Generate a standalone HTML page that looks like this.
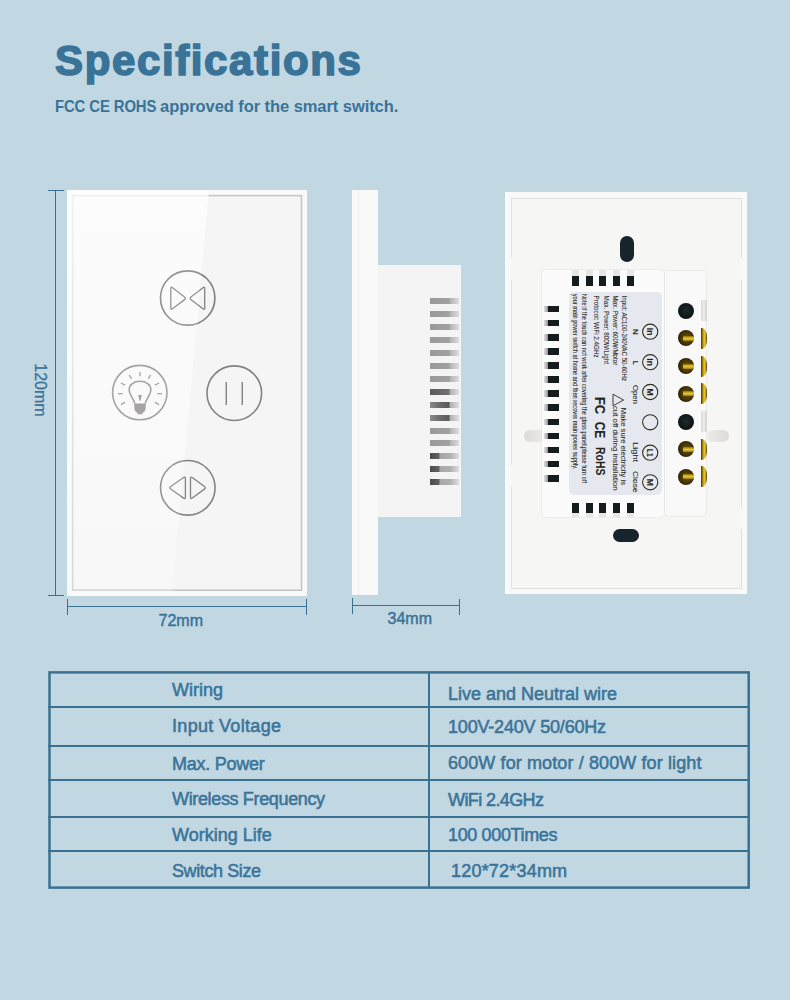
<!DOCTYPE html>
<html><head><meta charset="utf-8">
<style>
html,body{margin:0;padding:0}
body{width:790px;height:1000px;background:#c1d7e2;position:relative;overflow:hidden;font-family:"Liberation Sans",sans-serif;}
.a{position:absolute}
.t{position:absolute;white-space:nowrap;color:#3a7398;line-height:1}
.ln{position:absolute;background:#3a7191}
.row{position:absolute;left:48px;width:702px;height:2px;background:#3a7191}
.tx{position:absolute;white-space:nowrap;color:#3b7499;font-size:18px;line-height:1;-webkit-text-stroke:0.55px #3b7499}
</style></head>
<body>
<!-- title -->
<div class="t" id="title" style="left:55px;top:40px;font-size:42px;font-weight:bold;-webkit-text-stroke:1.6px #3a7398;letter-spacing:1.63px">Specifications</div>
<div class="t" id="sub" style="left:55px;top:98px;font-size:16.5px;font-weight:bold;letter-spacing:-0.07px"><span style="display:inline-block;transform:scaleX(0.9);transform-origin:0 0;letter-spacing:-0.1px;margin-right:-12px">FCC CE ROHS</span> approved for the smart switch.</div>

<!-- dimension lines -->
<div class="ln" style="left:55px;top:190px;width:1px;height:406px"></div>
<div class="ln" style="left:48px;top:190px;width:16px;height:1px"></div>
<div class="ln" style="left:48px;top:595px;width:16px;height:1px"></div>
<div class="t" style="left:13px;top:382px;font-size:16px;-webkit-text-stroke:0.3px #3a7398;transform:rotate(90deg);transform-origin:center">120mm</div>

<div class="ln" style="left:67px;top:606px;width:240px;height:1px"></div>
<div class="ln" style="left:67px;top:599px;width:1px;height:16px"></div>
<div class="ln" style="left:306px;top:599px;width:1px;height:16px"></div>
<div class="t" style="left:158.5px;top:613px;font-size:16px;-webkit-text-stroke:0.45px #3a7398">72mm</div>

<div class="ln" style="left:352px;top:605px;width:108px;height:1px"></div>
<div class="ln" style="left:352px;top:598px;width:1px;height:16px"></div>
<div class="ln" style="left:459px;top:599px;width:1px;height:16px"></div>
<div class="t" style="left:387.5px;top:611px;font-size:16px;-webkit-text-stroke:0.45px #3a7398">34mm</div>

<!-- table -->
<svg class="a" style="left:40px;top:660px" width="720" height="240"><rect x="9.5" y="12.4" width="699.2" height="215.2" fill="none" stroke="#3a7191" stroke-width="2.5"/></svg>
<div class="ln" style="left:428px;top:672px;width:2px;height:215px"></div>
<div class="row" style="top:706px"></div>
<div class="row" style="top:745px"></div>
<div class="row" style="top:779px"></div>
<div class="row" style="top:816px"></div>
<div class="row" style="top:850px"></div>

<div class="tx" style="left:172px;top:680.5px">Wiring</div>
<div class="tx" style="left:172px;top:716.5px;letter-spacing:0.33px">Input Voltage</div>
<div class="tx" style="left:172px;top:754.5px;letter-spacing:-0.25px">Max. Power</div>
<div class="tx" style="left:172px;top:789.5px;letter-spacing:-0.35px">Wireless Frequency</div>
<div class="tx" style="left:172px;top:825.5px">Working Life</div>
<div class="tx" style="left:172px;top:861.5px;letter-spacing:-0.4px">Switch Size</div>

<div class="tx" style="left:448px;top:684.5px">Live and Neutral wire</div>
<div class="tx" style="left:448px;top:717.5px;letter-spacing:-0.19px">100V-240V 50/60Hz</div>
<div class="tx" style="left:448px;top:753.5px;letter-spacing:0.11px">600W for motor / 800W for light</div>
<div class="tx" style="left:448px;top:790.5px;letter-spacing:-0.6px">WiFi 2.4GHz</div>
<div class="tx" style="left:448px;top:825.5px;letter-spacing:-0.36px">100 000Times</div>
<div class="tx" style="left:451px;top:861.5px;letter-spacing:0.2px">120*72*34mm</div>

<!-- FRONT -->
<div class="a" style="left:67px;top:190px;width:240px;height:406px;background:#fafafa"></div>
<svg class="a" style="left:67px;top:190px" width="240" height="406"><rect x="5.6" y="5.6" width="228.9" height="394.6" fill="#f5f5f5" stroke="#c6c6c6" stroke-width="1.6"/></svg>

<svg class="a" style="left:67px;top:190px" width="240" height="406" viewBox="0 0 240 406">
<defs><linearGradient id="refl" x1="0" y1="0" x2="0" y2="1"><stop offset="0" stop-color="#fff" stop-opacity="0.7"/><stop offset="0.5" stop-color="#fff" stop-opacity="0.45"/><stop offset="1" stop-color="#fff" stop-opacity="0.15"/></linearGradient></defs>
<polygon points="0,0 142,0 105,406 0,406" fill="url(#refl)"/>
</svg>
<svg class="a" style="left:67px;top:190px" width="240" height="406" viewBox="67 190 240 406" fill="none" stroke="#858282">
<circle cx="187.7" cy="298" r="27.2" stroke-width="1.7"/>
<path d="M172.54,287.65 Q170.80,286.30 170.80,288.50 L170.80,307.90 Q170.80,310.10 172.55,308.77 L184.55,299.63 Q186.30,298.30 184.56,296.95 Z" stroke-width="1.3" stroke-linejoin="round"/>
<path d="M202.96,287.65 Q204.70,286.30 204.70,288.50 L204.70,307.90 Q204.70,310.10 202.95,308.77 L190.95,299.63 Q189.20,298.30 190.94,296.95 Z" stroke-width="1.3" stroke-linejoin="round"/>
<circle cx="234.3" cy="393.2" r="27.3" stroke-width="1.6"/>
<path d="M226.3,382 V405 M242.3,382 V405" stroke-width="1.4"/>
<circle cx="187.8" cy="487.8" r="27.3" stroke-width="1.6"/>
<path d="M183.60,477.56 Q185.40,476.30 185.40,478.50 L185.40,497.20 Q185.40,499.40 183.60,498.13 L170.70,489.07 Q168.90,487.80 170.70,486.54 Z" stroke-width="1.3" stroke-linejoin="round"/>
<path d="M192.27,477.60 Q190.50,476.30 190.50,478.50 L190.50,497.20 Q190.50,499.40 192.27,498.09 L204.43,489.11 Q206.20,487.80 204.43,486.50 Z" stroke-width="1.3" stroke-linejoin="round"/>
</svg>
<svg class="a" style="left:108px;top:362px" width="64" height="62" viewBox="0 0 64 62" fill="none" stroke="#969393">
<circle cx="31.8" cy="30.6" r="27.2" stroke-width="1.6"/>
<path d="M26.7,41.5 C26.2,37 21.2,33.5 21.2,27.5 C21.2,22.5 26,19.3 32,19.3 C38,19.3 42.8,22.5 42.8,27.5 C42.8,33.5 37.8,37 37.3,41.5" stroke-width="1.6"/>
<path d="M26.1,41.4 H37.9 L37.5,47 Q37.3,49.6 35.6,50.2 L34.4,50.8 V52.2 H29.6 V50.8 L28.4,50.2 Q26.7,49.6 26.5,47 Z" fill="#969393" stroke="none"/>
<path d="M30.2,33 H33.8 L32.5,38.8 H31.5 Z" fill="#969393" stroke="none"/>
<path d="M32,10 V14.3 M21.1,12.9 L23.6,16.7 M42.6,12.9 L40.4,16.7 M12.9,21 L17.1,23.2 M51.1,21 L46.9,23.2 M10,31.6 H14.7 M49.3,31.6 H54 M12.9,42.6 L17.1,40.4 M51.1,42.6 L46.9,40.4" stroke-width="1.3"/>
</svg>
<!-- SIDE -->

<svg class="a" style="left:67px;top:190px" width="240" height="406" viewBox="0 0 240 406">
<polygon points="0,0 142,0 105,406 0,406" fill="#fff" fill-opacity="0.15"/>
</svg>
<div class="a" style="left:352px;top:190px;width:26px;height:405px;background:#f9f9f9"></div>
<div class="a" style="left:358px;top:190px;width:1px;height:405px;background:#ececec"></div>
<div class="a" style="left:378px;top:265px;width:83px;height:252px;background:#f4f4f4"></div>

<!-- BACK -->
<div class="a" style="left:430px;top:298.00px;width:29px;height:6px;background:linear-gradient(90deg,#9a9a9a 0%,#a0a0a0 65%,#b8b8b8 72%,#c8c8c8 85%,#dcdcdc 100%)"></div><div class="a" style="left:430px;top:310.95px;width:29px;height:6px;background:linear-gradient(90deg,#9a9a9a 0%,#a0a0a0 65%,#b8b8b8 72%,#c8c8c8 85%,#dcdcdc 100%)"></div><div class="a" style="left:430px;top:323.90px;width:29px;height:6px;background:linear-gradient(90deg,#9a9a9a 0%,#a0a0a0 65%,#b8b8b8 72%,#c8c8c8 85%,#dcdcdc 100%)"></div><div class="a" style="left:430px;top:336.85px;width:29px;height:6px;background:linear-gradient(90deg,#9a9a9a 0%,#a0a0a0 65%,#b8b8b8 72%,#c8c8c8 85%,#dcdcdc 100%)"></div><div class="a" style="left:430px;top:349.80px;width:29px;height:6px;background:linear-gradient(90deg,#9a9a9a 0%,#a0a0a0 65%,#b8b8b8 72%,#c8c8c8 85%,#dcdcdc 100%)"></div><div class="a" style="left:430px;top:362.75px;width:29px;height:6px;background:linear-gradient(90deg,#9a9a9a 0%,#a0a0a0 65%,#b8b8b8 72%,#c8c8c8 85%,#dcdcdc 100%)"></div><div class="a" style="left:430px;top:375.70px;width:29px;height:6px;background:linear-gradient(90deg,#9a9a9a 0%,#a0a0a0 65%,#b8b8b8 72%,#c8c8c8 85%,#dcdcdc 100%)"></div><div class="a" style="left:430px;top:388.65px;width:29px;height:6px;background:linear-gradient(90deg,#5a5a5a 0%,#707070 65%,#b0b0b0 70%,#c8c8c8 85%,#dedede 100%)"></div><div class="a" style="left:430px;top:401.60px;width:29px;height:6px;background:linear-gradient(90deg,#8a8a8a 0%,#6a6a6a 35%,#5a5a5a 65%,#b0b0b0 70%,#c8c8c8 85%,#dedede 100%)"></div><div class="a" style="left:430px;top:414.55px;width:29px;height:6px;background:linear-gradient(90deg,#8a8a8a 0%,#6a6a6a 35%,#5a5a5a 65%,#b0b0b0 70%,#c8c8c8 85%,#dedede 100%)"></div><div class="a" style="left:430px;top:427.50px;width:29px;height:6px;background:linear-gradient(90deg,#9a9a9a 0%,#a0a0a0 65%,#b8b8b8 72%,#c8c8c8 85%,#dcdcdc 100%)"></div><div class="a" style="left:430px;top:440.45px;width:29px;height:6px;background:linear-gradient(90deg,#9a9a9a 0%,#a0a0a0 65%,#b8b8b8 72%,#c8c8c8 85%,#dcdcdc 100%)"></div><div class="a" style="left:430px;top:453.40px;width:29px;height:6px;background:linear-gradient(90deg,#4a4a4a 0%,#606060 30%,#a8a8a8 35%,#b0b0b0 70%,#c8c8c8 85%,#dedede 100%)"></div><div class="a" style="left:430px;top:466.35px;width:29px;height:6px;background:linear-gradient(90deg,#4a4a4a 0%,#606060 30%,#a8a8a8 35%,#b0b0b0 70%,#c8c8c8 85%,#dedede 100%)"></div><div class="a" style="left:430px;top:479.30px;width:29px;height:6px;background:linear-gradient(90deg,#4a4a4a 0%,#606060 30%,#a8a8a8 35%,#b0b0b0 70%,#c8c8c8 85%,#dedede 100%)"></div>
<div class="a" style="left:505px;top:192px;width:242px;height:402px;background:#f9f9f9"></div>
<div class="a" style="left:511px;top:198px;width:229px;height:389px;border:1px solid #e2e1df;background:#f6f6f5"></div>
<div class="a" style="left:510px;top:258px;width:3px;height:22px;background:#f8f8f7"></div>
<div class="a" style="left:510px;top:465px;width:3px;height:21px;background:#f8f8f7"></div>
<div class="a" style="left:740px;top:258px;width:3px;height:22px;background:#f8f8f7"></div>
<div class="a" style="left:740px;top:508px;width:3px;height:21px;background:#f8f8f7"></div>
<div class="a" style="left:620px;top:236px;width:13.5px;height:26px;border-radius:7px;background:#17242c"></div>
<div class="a" style="left:612.5px;top:528.5px;width:26.5px;height:13.5px;border-radius:7px;background:#17242c"></div>
<div class="a" style="left:523.5px;top:429.5px;width:22px;height:12px;border-radius:6px;background:linear-gradient(90deg,#dddbd9,#ecebea)"></div>
<div class="a" style="left:707px;top:429.5px;width:22px;height:12px;border-radius:6px;background:linear-gradient(90deg,#ecebea,#dddbd9)"></div>
<div class="a" style="left:541.5px;top:270px;width:122.5px;height:247px;border-radius:4px;background:#fbfbfb;box-shadow:0 0 0 0.5px #e2e2e2"></div>
<div class="a" style="left:665px;top:271px;width:41px;height:245px;border-radius:3px;background:#f9f9f9;box-shadow:0 0 0 0.5px #e0e0e0"></div>
<div class="a" style="left:572px;top:276px;width:7px;height:10px;background:#141c1e"></div>
<div class="a" style="left:572px;top:270px;width:7px;height:6px;background:#e6e6e6"></div>
<div class="a" style="left:572px;top:502.5px;width:7px;height:10px;background:#141c1e"></div>
<div class="a" style="left:572px;top:512.5px;width:7px;height:4.5px;background:#e6e6e6"></div>
<div class="a" style="left:585.7px;top:276px;width:7px;height:10px;background:#141c1e"></div>
<div class="a" style="left:585.7px;top:270px;width:7px;height:6px;background:#e6e6e6"></div>
<div class="a" style="left:585.7px;top:502.5px;width:7px;height:10px;background:#141c1e"></div>
<div class="a" style="left:585.7px;top:512.5px;width:7px;height:4.5px;background:#e6e6e6"></div>
<div class="a" style="left:599.3px;top:276px;width:7px;height:10px;background:#141c1e"></div>
<div class="a" style="left:599.3px;top:270px;width:7px;height:6px;background:#e6e6e6"></div>
<div class="a" style="left:599.3px;top:502.5px;width:7px;height:10px;background:#141c1e"></div>
<div class="a" style="left:599.3px;top:512.5px;width:7px;height:4.5px;background:#e6e6e6"></div>
<div class="a" style="left:613.2px;top:276px;width:7px;height:10px;background:#141c1e"></div>
<div class="a" style="left:613.2px;top:270px;width:7px;height:6px;background:#e6e6e6"></div>
<div class="a" style="left:613.2px;top:502.5px;width:7px;height:10px;background:#141c1e"></div>
<div class="a" style="left:613.2px;top:512.5px;width:7px;height:4.5px;background:#e6e6e6"></div>
<div class="a" style="left:627px;top:276px;width:7px;height:10px;background:#141c1e"></div>
<div class="a" style="left:627px;top:270px;width:7px;height:6px;background:#e6e6e6"></div>
<div class="a" style="left:627px;top:502.5px;width:7px;height:10px;background:#141c1e"></div>
<div class="a" style="left:627px;top:512.5px;width:7px;height:4.5px;background:#e6e6e6"></div>
<div class="a" style="left:544px;top:305.70px;width:14.5px;height:6.7px;background:linear-gradient(90deg,#e0e0e0 0%,#9a9a9a 25%,#141c1e 30%,#141c1e 100%)"></div>
<div class="a" style="left:544px;top:319.80px;width:14.5px;height:6.7px;background:linear-gradient(90deg,#e0e0e0 0%,#9a9a9a 25%,#141c1e 30%,#141c1e 100%)"></div>
<div class="a" style="left:544px;top:333.90px;width:14.5px;height:6.7px;background:linear-gradient(90deg,#e0e0e0 0%,#9a9a9a 25%,#141c1e 30%,#141c1e 100%)"></div>
<div class="a" style="left:544px;top:348.00px;width:14.5px;height:6.7px;background:linear-gradient(90deg,#e0e0e0 0%,#9a9a9a 25%,#141c1e 30%,#141c1e 100%)"></div>
<div class="a" style="left:544px;top:362.10px;width:14.5px;height:6.7px;background:linear-gradient(90deg,#e0e0e0 0%,#9a9a9a 25%,#141c1e 30%,#141c1e 100%)"></div>
<div class="a" style="left:544px;top:376.20px;width:14.5px;height:6.7px;background:linear-gradient(90deg,#e0e0e0 0%,#9a9a9a 25%,#141c1e 30%,#141c1e 100%)"></div>
<div class="a" style="left:544px;top:390.30px;width:14.5px;height:6.7px;background:linear-gradient(90deg,#e0e0e0 0%,#9a9a9a 25%,#141c1e 30%,#141c1e 100%)"></div>
<div class="a" style="left:544px;top:404.40px;width:14.5px;height:6.7px;background:linear-gradient(90deg,#e0e0e0 0%,#9a9a9a 25%,#141c1e 30%,#141c1e 100%)"></div>
<div class="a" style="left:544px;top:418.50px;width:14.5px;height:6.7px;background:linear-gradient(90deg,#e0e0e0 0%,#9a9a9a 25%,#141c1e 30%,#141c1e 100%)"></div>
<div class="a" style="left:544px;top:432.60px;width:14.5px;height:6.7px;background:linear-gradient(90deg,#e0e0e0 0%,#9a9a9a 25%,#141c1e 30%,#141c1e 100%)"></div>
<div class="a" style="left:544px;top:446.70px;width:14.5px;height:6.7px;background:linear-gradient(90deg,#e0e0e0 0%,#9a9a9a 25%,#141c1e 30%,#141c1e 100%)"></div>
<div class="a" style="left:544px;top:460.80px;width:14.5px;height:6.7px;background:linear-gradient(90deg,#e0e0e0 0%,#9a9a9a 25%,#141c1e 30%,#141c1e 100%)"></div>
<div class="a" style="left:544px;top:474.90px;width:14.5px;height:6.7px;background:linear-gradient(90deg,#e0e0e0 0%,#9a9a9a 25%,#141c1e 30%,#141c1e 100%)"></div>
<div class="a" style="left:569px;top:292px;width:93px;height:203px;border-radius:5px;background:#e5e8ef"></div>
<div class="a" style="left:678.3px;top:302.5px;width:16px;height:16px;border-radius:50%;background:radial-gradient(circle at 50% 45%,#1e2a2a 0%,#0d1414 70%,#142020 100%)"></div>
<div class="a" style="left:700.5px;top:300.0px;width:6px;height:21px;background:linear-gradient(90deg,#d8d8d8,#ececec,#d0d0d0)"></div>
<div class="a" style="left:678.3px;top:330.1px;width:16px;height:16px;border-radius:50%;background:radial-gradient(circle at 55% 50%,#6a5208 0%,#4a3806 45%,#251c02 80%,#3a3008 100%)"></div>
<div class="a" style="left:682.5px;top:335.6px;width:11px;height:5px;border-radius:1px;background:linear-gradient(180deg,#8a7010,#e8c830 50%,#9a7e10)"></div>
<div class="a" style="left:700.8px;top:327.6px;width:6px;height:21px;border-radius:0 5px 5px 0 / 0 9px 9px 0;background:linear-gradient(90deg,#3a3005,#b08a10 30%,#e8c830 55%,#c9a020 75%,#4a3c06)"></div>
<div class="a" style="left:678.3px;top:358.0px;width:16px;height:16px;border-radius:50%;background:radial-gradient(circle at 55% 50%,#6a5208 0%,#4a3806 45%,#251c02 80%,#3a3008 100%)"></div>
<div class="a" style="left:682.5px;top:363.5px;width:11px;height:5px;border-radius:1px;background:linear-gradient(180deg,#8a7010,#e8c830 50%,#9a7e10)"></div>
<div class="a" style="left:700.8px;top:355.5px;width:6px;height:21px;border-radius:0 5px 5px 0 / 0 9px 9px 0;background:linear-gradient(90deg,#3a3005,#b08a10 30%,#e8c830 55%,#c9a020 75%,#4a3c06)"></div>
<div class="a" style="left:678.3px;top:385.8px;width:16px;height:16px;border-radius:50%;background:radial-gradient(circle at 55% 50%,#6a5208 0%,#4a3806 45%,#251c02 80%,#3a3008 100%)"></div>
<div class="a" style="left:682.5px;top:391.3px;width:11px;height:5px;border-radius:1px;background:linear-gradient(180deg,#8a7010,#e8c830 50%,#9a7e10)"></div>
<div class="a" style="left:700.8px;top:383.3px;width:6px;height:21px;border-radius:0 5px 5px 0 / 0 9px 9px 0;background:linear-gradient(90deg,#3a3005,#b08a10 30%,#e8c830 55%,#c9a020 75%,#4a3c06)"></div>
<div class="a" style="left:678.3px;top:413.5px;width:16px;height:16px;border-radius:50%;background:radial-gradient(circle at 50% 45%,#1e2a2a 0%,#0d1414 70%,#142020 100%)"></div>
<div class="a" style="left:700.5px;top:411.0px;width:6px;height:21px;background:linear-gradient(90deg,#d8d8d8,#ececec,#d0d0d0)"></div>
<div class="a" style="left:678.3px;top:441.1px;width:16px;height:16px;border-radius:50%;background:radial-gradient(circle at 55% 50%,#6a5208 0%,#4a3806 45%,#251c02 80%,#3a3008 100%)"></div>
<div class="a" style="left:682.5px;top:446.6px;width:11px;height:5px;border-radius:1px;background:linear-gradient(180deg,#8a7010,#e8c830 50%,#9a7e10)"></div>
<div class="a" style="left:700.8px;top:438.6px;width:6px;height:21px;border-radius:0 5px 5px 0 / 0 9px 9px 0;background:linear-gradient(90deg,#3a3005,#b08a10 30%,#e8c830 55%,#c9a020 75%,#4a3c06)"></div>
<div class="a" style="left:678.3px;top:468.8px;width:16px;height:16px;border-radius:50%;background:radial-gradient(circle at 55% 50%,#6a5208 0%,#4a3806 45%,#251c02 80%,#3a3008 100%)"></div>
<div class="a" style="left:682.5px;top:474.3px;width:11px;height:5px;border-radius:1px;background:linear-gradient(180deg,#8a7010,#e8c830 50%,#9a7e10)"></div>
<div class="a" style="left:700.8px;top:466.3px;width:6px;height:21px;border-radius:0 5px 5px 0 / 0 9px 9px 0;background:linear-gradient(90deg,#3a3005,#b08a10 30%,#e8c830 55%,#c9a020 75%,#4a3c06)"></div>
<svg class="a" style="left:565px;top:285px" width="100" height="215" viewBox="565 285 100 215" font-family="Liberation Sans, sans-serif"><text transform="translate(621.5,295.6) rotate(90)" font-size="7" font-weight="normal" fill="#25251a" stroke="#25251a" stroke-width="0.06" textLength="85.39999999999998" lengthAdjust="spacingAndGlyphs">Input: AC100-240VAC 50-60Hz</text><text transform="translate(612.7,295.6) rotate(90)" font-size="7" font-weight="normal" fill="#25251a" stroke="#25251a" stroke-width="0.06" textLength="69.59999999999997" lengthAdjust="spacingAndGlyphs">Max. Power: 600W/Motor</text><text transform="translate(603.8,295.6) rotate(90)" font-size="7" font-weight="normal" fill="#25251a" stroke="#25251a" stroke-width="0.06" textLength="68.39999999999998" lengthAdjust="spacingAndGlyphs">Max. Power: 800W/Light</text><text transform="translate(594.2,295.6) rotate(90)" font-size="7" font-weight="normal" fill="#25251a" stroke="#25251a" stroke-width="0.06" textLength="62.0" lengthAdjust="spacingAndGlyphs">Protocol: WiFi 2.4GHz</text><text transform="translate(582.2,293.7) rotate(90)" font-size="6.5" font-weight="normal" fill="#25251a" stroke="#25251a" stroke-width="0.06" textLength="189.3" lengthAdjust="spacingAndGlyphs">Note:If the touch can not work after covering the glass panel,please turn off</text><text transform="translate(573.4,293.7) rotate(90)" font-size="6.5" font-weight="normal" fill="#25251a" stroke="#25251a" stroke-width="0.06" textLength="175.5" lengthAdjust="spacingAndGlyphs">your main power switch at home and then recover main power supply.</text><text transform="translate(633.2,329) rotate(90)" font-size="7.5" font-weight="bold" fill="#25251a" stroke="#25251a" stroke-width="0.06" textLength="5.800000000000011" lengthAdjust="spacingAndGlyphs">N</text><text transform="translate(633.2,360.8) rotate(90)" font-size="7.5" font-weight="bold" fill="#25251a" stroke="#25251a" stroke-width="0.06" textLength="4.0" lengthAdjust="spacingAndGlyphs">L</text><text transform="translate(632.9,385) rotate(90)" font-size="8" font-weight="normal" fill="#25251a" stroke="#25251a" stroke-width="0.06" textLength="19" lengthAdjust="spacingAndGlyphs">Open</text><text transform="translate(632.9,442) rotate(90)" font-size="8" font-weight="normal" fill="#25251a" stroke="#25251a" stroke-width="0.06" textLength="20.19999999999999" lengthAdjust="spacingAndGlyphs">Light</text><text transform="translate(632.9,471) rotate(90)" font-size="8" font-weight="normal" fill="#25251a" stroke="#25251a" stroke-width="0.06" textLength="21.600000000000023" lengthAdjust="spacingAndGlyphs">Close</text><text transform="translate(620.9,407.8) rotate(90)" font-size="7.5" font-weight="normal" fill="#25251a" stroke="#25251a" stroke-width="0.06" textLength="77.19999999999999" lengthAdjust="spacingAndGlyphs">Make sure electricity is</text><text transform="translate(612.7,405.9) rotate(90)" font-size="7.5" font-weight="normal" fill="#25251a" stroke="#25251a" stroke-width="0.06" textLength="84.80000000000001" lengthAdjust="spacingAndGlyphs">cut off during installation</text><text transform="translate(595,397) rotate(90)" font-size="14" font-weight="bold" fill="#25251a" stroke="#25251a" stroke-width="0.06" textLength="17.100000000000023" lengthAdjust="spacingAndGlyphs">FC</text><text transform="translate(595,421.7) rotate(90)" font-size="14" font-weight="bold" fill="#25251a" stroke="#25251a" stroke-width="0.06" textLength="16.5" lengthAdjust="spacingAndGlyphs">CE</text><text transform="translate(596,447) rotate(90)" font-size="12" font-weight="bold" fill="#25251a" stroke="#25251a" stroke-width="0.06" textLength="28.5" lengthAdjust="spacingAndGlyphs">RoHS</text><path d="M613,394.2 L613,405.8 L623.6,400 Z" fill="none" stroke="#2b2b1c" stroke-width="0.9" stroke-linejoin="round"/><circle cx="650.2" cy="331.7" r="7.6" fill="none" stroke="#2e2e1a" stroke-width="1.1"/><text transform="translate(646.6,327.85) rotate(90)" font-size="8.5" font-weight="bold" fill="#25251a" stroke="#25251a" stroke-width="0.06" textLength="7.70" lengthAdjust="spacingAndGlyphs">In</text><circle cx="650.2" cy="362.2" r="7.6" fill="none" stroke="#2e2e1a" stroke-width="1.1"/><text transform="translate(646.6,358.35) rotate(90)" font-size="8.5" font-weight="bold" fill="#25251a" stroke="#25251a" stroke-width="0.06" textLength="7.70" lengthAdjust="spacingAndGlyphs">In</text><circle cx="650.2" cy="392" r="7.6" fill="none" stroke="#2e2e1a" stroke-width="1.1"/><text transform="translate(646.6,388.40) rotate(90)" font-size="8.5" font-weight="bold" fill="#25251a" stroke="#25251a" stroke-width="0.06" textLength="7.20" lengthAdjust="spacingAndGlyphs">M</text><circle cx="650.2" cy="422.3" r="7.6" fill="none" stroke="#2e2e1a" stroke-width="1.1"/><circle cx="650.2" cy="452.7" r="7.6" fill="none" stroke="#2e2e1a" stroke-width="1.1"/><text transform="translate(646.6,448.85) rotate(90)" font-size="8.5" font-weight="bold" fill="#25251a" stroke="#25251a" stroke-width="0.06" textLength="7.70" lengthAdjust="spacingAndGlyphs">L1</text><circle cx="650.2" cy="482.3" r="7.6" fill="none" stroke="#2e2e1a" stroke-width="1.1"/><text transform="translate(646.6,478.70) rotate(90)" font-size="8.5" font-weight="bold" fill="#25251a" stroke="#25251a" stroke-width="0.06" textLength="7.20" lengthAdjust="spacingAndGlyphs">M</text></svg>
</body></html>
